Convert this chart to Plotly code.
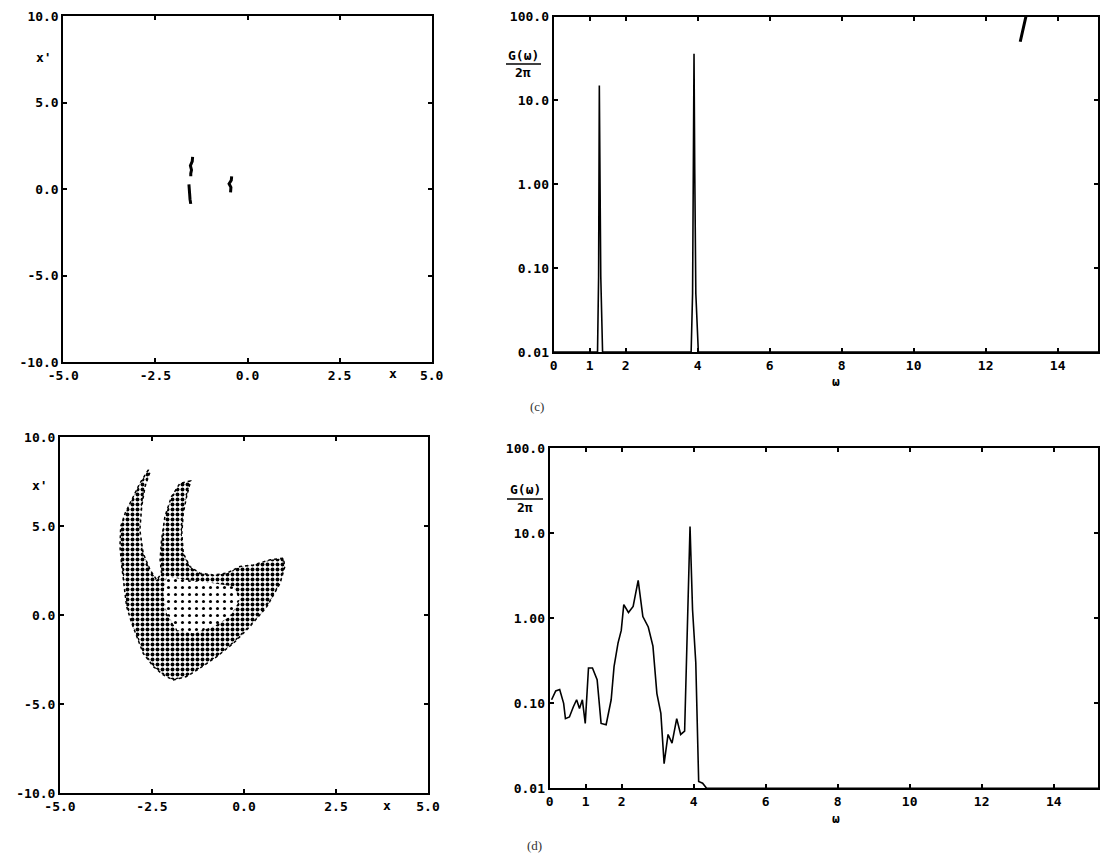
import plotly.graph_objects as go

# page body has an 8px margin; the figure is sized to fit inside the 1113x862 window without scrollbars
OFF = 8
W, H = 1113 - 2 * OFF, 862 - 2 * OFF

# ---------------- data ----------------
# (top-left) phase portrait: three short clusters of points (x, x')
c1_x = [-1.49, -1.50, -1.55, -1.52, -1.54, -1.54]
c1_y = [1.86, 1.60, 1.35, 1.10, 0.90, 0.73]
c2_x = [-1.59, -1.59, -1.57, -1.56, -1.54]
c2_y = [0.27, 0.00, -0.30, -0.60, -0.86]
c3_x = [-0.43, -0.44, -0.50, -0.45, -0.46]
c3_y = [0.73, 0.50, 0.30, 0.10, -0.20]

# (top-right) power spectrum (c)
omega_c = [0, 1.22, 1.25, 1.27, 1.29, 1.31, 1.36, 3.82, 3.86, 3.88, 3.90, 3.92, 3.95, 4.02, 15.5]
G_c = [0.01, 0.01, 0.08, 15.0, 1.0, 0.08, 0.01, 0.01, 0.05, 3.0, 36.0, 1.5, 0.05, 0.01, 0.01]
stray_omega = [12.96, 13.03, 13.10, 13.16, 13.22]
stray_G = [50, 70, 95, 120, 140]

# (bottom-left) strange-attractor region outline (x, x')
att_x = [-2.60, -2.83, -3.05, -3.23, -3.35, -3.37, -3.32, -3.26, -3.19, -3.05, -2.92, -2.74,
         -2.46, -2.19, -1.92, -1.56, -1.20, -0.74, -0.29, 0.16, 0.62, 0.98, 1.11, 1.07,
         0.71, 0.25, -0.11, -0.47, -0.83, -1.20, -1.47, -1.65, -1.69, -1.65, -1.56, -1.45,
         -1.74, -1.97, -2.15, -2.24, -2.28, -2.24, -2.37, -2.55, -2.74, -2.83, -2.78, -2.69,
         -2.55, -2.60]
att_y = [8.15, 7.40, 6.47, 5.72, 4.97, 3.84, 2.72, 1.60, 0.47, -0.46, -1.21, -2.15,
         -2.90, -3.37, -3.65, -3.46, -2.99, -2.34, -1.59, -0.65, 0.47, 1.78, 2.72, 3.19,
         3.10, 2.81, 2.72, 2.35, 2.25, 2.35, 2.72, 3.47, 4.59, 5.72, 6.65, 7.53,
         7.40, 6.65, 5.53, 4.22, 3.10, 2.35, 1.97, 2.53, 3.47, 4.78, 6.09, 7.21,
         8.06, 8.15]
sparse_x = [-2.10, -1.56, -0.83, -0.29, -0.11, -0.38, -0.83, -1.38, -1.83, -2.10, -2.19, -2.10]
sparse_y = [2.16, 1.97, 1.78, 1.60, 0.85, -0.09, -0.65, -1.03, -0.84, 0.10, 1.22, 2.16]

# (bottom-right) power spectrum (d)
omega_d = [0.055, 0.17, 0.28, 0.39, 0.44, 0.55, 0.66, 0.75, 0.83, 0.91, 0.99, 1.08, 1.19, 1.32,
           1.43, 1.57, 1.71, 1.79, 1.90, 1.99, 2.06, 2.19, 2.32, 2.46, 2.59, 2.74, 2.87, 2.98,
           3.09, 3.18, 3.29, 3.40, 3.53, 3.64, 3.75, 3.83, 3.90, 3.97, 4.06, 4.14, 4.25, 4.36, 15.5]
G_d = [0.11, 0.14, 0.145, 0.10, 0.066, 0.069, 0.091, 0.11, 0.087, 0.11, 0.058, 0.26, 0.26, 0.19,
       0.058, 0.056, 0.11, 0.27, 0.51, 0.72, 1.45, 1.17, 1.38, 2.8, 1.05, 0.79, 0.47, 0.13,
       0.076, 0.0195, 0.043, 0.034, 0.066, 0.043, 0.047, 1.38, 12.0, 1.26, 0.30, 0.012, 0.0115, 0.01, 0.01]

phase_ticks = [-10, -5, 0, 5, 10]
phase_ticktext = ["-10.0", "-5.0", "0.0", "5.0", "10.0"]
phase_xticks = [-5, -2.5, 0, 2.5, 5]
phase_xticktext = ["-5.0", "-2.5", "0.0", "2.5", "5.0"]
spec_xticks = [0, 1, 2, 4, 6, 8, 10, 12, 14]
spec_xticktext = ["0", "1", "2", "4", "6", "8", "10", "12", "14"]
spec_yticks = [0.01, 0.1, 1, 10, 100]
spec_yticktext = ["0.01", "0.10", "1.00", "10.0", "100.0"]

# ---------------- figure ----------------
def px(x):
    return min(1.0, (x - OFF) / W)

def py(y):
    return max(0.0, min(1.0, 1 - (y - OFF) / H))

TICKFONT = dict(family="DejaVu Sans Mono", size=13, color="black", weight="bold")
LBLFONT = dict(family="DejaVu Sans Mono", size=13, color="black", weight="bold")

fig = go.Figure()

ink = dict(color="black", width=3)
for cx, cy in [(c1_x, c1_y), (c2_x, c2_y), (c3_x, c3_y)]:
    fig.add_trace(go.Scatter(x=cx, y=cy, mode="lines", line=ink, xaxis="x", yaxis="y",
                             showlegend=False, hoverinfo="skip"))

fig.add_trace(go.Scatter(x=omega_c, y=G_c, mode="lines", line=dict(color="black", width=1.6),
                         xaxis="x2", yaxis="y2", showlegend=False))
fig.add_trace(go.Scatter(x=stray_omega, y=stray_G, mode="lines", line=dict(color="black", width=3),
                         xaxis="x2", yaxis="y2", showlegend=False, hoverinfo="skip"))

fig.add_trace(go.Scatter(x=att_x, y=att_y, mode="lines", fill="toself",
                         line=dict(color="black", width=1.5, dash="dot"),
                         fillpattern=dict(shape=".", fgcolor="black", fgopacity=1, bgcolor="white",
                                          size=5, solidity=0.5),
                         xaxis="x3", yaxis="y3", showlegend=False, hoverinfo="skip"))
fig.add_trace(go.Scatter(x=sparse_x, y=sparse_y, mode="lines", fill="toself",
                         line=dict(width=0),
                         fillpattern=dict(shape=".", fgcolor="black", fgopacity=1, bgcolor="white",
                                          size=7, solidity=0.15),
                         xaxis="x3", yaxis="y3", showlegend=False, hoverinfo="skip"))

fig.add_trace(go.Scatter(x=omega_d, y=G_d, mode="lines", line=dict(color="black", width=1.6),
                         xaxis="x4", yaxis="y4", showlegend=False))

def ax(domain, **kw):
    d = dict(domain=domain, showline=True, linecolor="black", linewidth=2, mirror="ticks",
             ticks="inside", ticklen=4, tickwidth=1.5, tickcolor="black", showgrid=False,
             zeroline=False, tickfont=TICKFONT, fixedrange=True, automargin=False,
             ticklabeloverflow="allow")
    d.update(kw)
    return d

RIGHT = 1098

fig.update_layout(
    width=W, height=H, margin=dict(l=0, r=0, t=0, b=0, pad=0), autosize=False,
    paper_bgcolor="white", plot_bgcolor="white",
    xaxis=ax([px(63.3), px(431.7)], range=[-5, 5], tickvals=phase_xticks, ticktext=phase_xticktext, anchor="y"),
    yaxis=ax([py(362), py(16)], range=[-10, 10], tickvals=phase_ticks, ticktext=phase_ticktext, anchor="x"),
    xaxis2=ax([px(553.6), px(RIGHT)], range=[0, 15.12], tickvals=spec_xticks, ticktext=spec_xticktext, anchor="y2"),
    yaxis2=ax([py(352), py(16.5)], type="log", range=[-2, 2], tickvals=spec_yticks, ticktext=spec_yticktext, anchor="x2"),
    xaxis3=ax([px(60), px(428)], range=[-5, 5], tickvals=phase_xticks, ticktext=phase_xticktext, anchor="y3"),
    yaxis3=ax([py(793), py(437)], range=[-10, 10], tickvals=phase_ticks, ticktext=phase_ticktext, anchor="x3"),
    xaxis4=ax([px(549.6), px(RIGHT)], range=[0, 15.23], tickvals=spec_xticks, ticktext=spec_xticktext, anchor="y4"),
    yaxis4=ax([py(788.3), py(448.3)], type="log", range=[-2, 2], tickvals=spec_yticks, ticktext=spec_yticktext, anchor="x4"),
)

ann = []
def label(text, x, y, font=LBLFONT):
    ann.append(dict(text=text, x=px(x), y=py(y), xref="paper", yref="paper", showarrow=False,
                    xanchor="center", yanchor="middle", font=font))

label("x'", 44, 57)
label("x", 393, 373)
label("x'", 40, 485)
label("x", 387, 805)
label("ω", 836, 381)
label("ω", 836, 818)
label("G(ω)", 523, 56)
label("2π", 523, 72)
label("G(ω)", 525, 489)
label("2π", 525, 508)
serif = dict(family="Liberation Serif", size=13, color="#333")
label("(c)", 537, 406, serif)
label("(d)", 534, 845, serif)
fig.update_layout(annotations=ann)

shapes = []
for (x0, x1, y) in [(506, 541, 64), (507, 543, 499)]:
    shapes.append(dict(type="line", xref="paper", yref="paper", x0=px(x0), x1=px(x1), y0=py(y), y1=py(y),
                       line=dict(color="black", width=1.5)))
fig.update_layout(shapes=shapes)

fig.write_html("out.html")
